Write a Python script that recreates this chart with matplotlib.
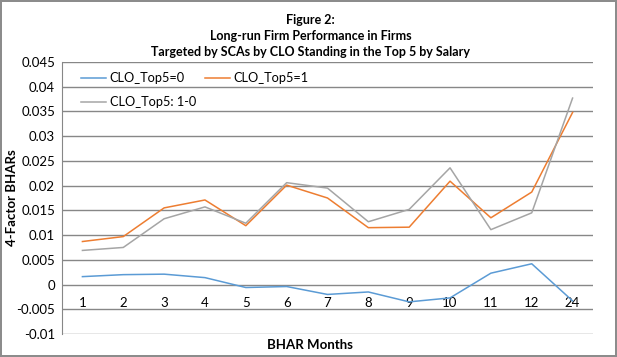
import matplotlib
matplotlib.use('Agg')
import matplotlib.pyplot as plt
import numpy as np

## data
months = ['1', '2', '3', '4', '5', '6', '7', '8', '9', '10', '11', '12', '24']
top5_0 = [0.0016, 0.0020, 0.0021, 0.0014, -0.0006, -0.0004, -0.0020, -0.0015,
          -0.0035, -0.0027, 0.0023, 0.0042, -0.0033]
top5_1 = [0.0087, 0.0097, 0.0155, 0.0171, 0.0119, 0.0201, 0.0175, 0.0115,
          0.0116, 0.0209, 0.0135, 0.0187, 0.0348]
top5_diff = [0.0069, 0.0075, 0.0133, 0.0157, 0.0124, 0.0206, 0.0195, 0.0127,
             0.0152, 0.0236, 0.0111, 0.0145, 0.0377]
yticks = [0.045, 0.04, 0.035, 0.03, 0.025, 0.02, 0.015, 0.01, 0.005, 0, -0.005, -0.01]

plt.rcParams['font.family'] = ['Lato', 'DejaVu Sans']

fig = plt.figure(figsize=(6.17, 3.57), dpi=100)
fig.patch.set_edgecolor('#8c8c8c')
fig.patch.set_linewidth(1.5)
ax = fig.add_axes([62/617, 1-334/357, (593-62)/617, (334-62)/357])

x = np.arange(len(months))
l0, = ax.plot(x, top5_0, color='#5B9BD5', lw=1.1, label='CLO_Top5=0')
l1, = ax.plot(x, top5_1, color='#ED7D31', lw=1.1, label='CLO_Top5=1')
ld, = ax.plot(x, top5_diff, color='#A5A5A5', lw=1.1, label='CLO_Top5: 1-0')

ax.set_xlim(-0.5, len(months)-0.5)
ax.set_ylim(-0.01, 0.045)
ax.set_yticks(yticks)
ax.set_yticklabels([f'{v:g}' for v in yticks], fontsize=9.5)
ax.yaxis.grid(True, color='#878787', lw=1)
ax.set_axisbelow(True)
ax.tick_params(axis='y', length=0, pad=5)

## category labels sit just under the zero line
ax.spines['bottom'].set_position(('data', 0))
ax.spines['bottom'].set_visible(False)
ax.spines['top'].set_visible(False)
ax.spines['right'].set_visible(False)
ax.spines['left'].set_color('#878787')
ax.set_xticks(x)
ax.set_xticklabels(months, fontsize=9.5)
ax.tick_params(axis='x', length=0, pad=9)

fig.text(0.503, 1-345/357, 'BHAR Months', ha='center', va='center',
         fontsize=9.5, fontweight='bold')
fig.text(12/617, 1-198/357, '4-Factor BHARs', ha='center', va='center',
         rotation=90, fontsize=9.5, fontweight='bold')
fig.text(0.503, 1-36/357, 'Figure 2:\nLong-run Firm Performance in Firms\n'
         'Targeted by SCAs by CLO Standing in the Top 5 by Salary',
         ha='center', va='center', fontsize=9, fontweight='bold', linespacing=1.35)

# order so rows read: =0, =1 / 1-0
ax.legend([l0, ld, l1], ['CLO_Top5=0', 'CLO_Top5: 1-0', 'CLO_Top5=1'],
          loc='upper left', ncol=2, frameon=False, fontsize=9.2,
          bbox_to_anchor=(0.015, 1.005), handlelength=1.95, handletextpad=0.25,
          columnspacing=0.7, labelspacing=0.95)

fig.savefig('out.png', dpi=100, edgecolor=fig.get_edgecolor())
